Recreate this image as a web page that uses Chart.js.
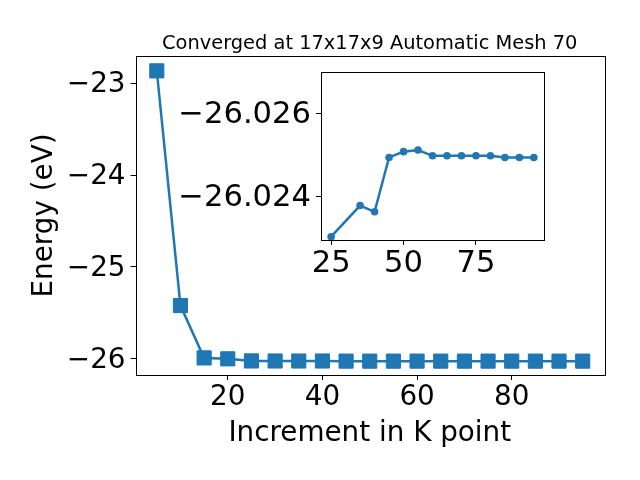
<!DOCTYPE html>
<html>
<head>
<meta charset="utf-8">
<script src="https://cdn.jsdelivr.net/npm/chart.js@4"></script>
<style>
  body { margin: 0; background: #fff; }
  #wrap { position: relative; width: 640px; height: 480px; }
  #wrap canvas { position: absolute; left: 0; top: 0; }
  #insetChart { pointer-events: none; }
</style>
</head>
<body>
<div id="wrap">
  <canvas id="mainChart" width="640" height="480"></canvas>
  <canvas id="insetChart" width="640" height="480"></canvas>
</div>
<script>
// data
const chartTitle = "Converged at 17x17x9 Automatic Mesh 70";
const xTitle = "Increment in K point";
const yTitle = "Energy (eV)";

const kPoints = [5, 10, 15, 20, 25, 30, 35, 40, 45, 50, 55, 60, 65, 70, 75, 80, 85, 90, 95];
const energy = [-22.865, -25.42, -25.99, -26.00, -26.0230, -26.0236, -26.0238, -26.0236, -26.0250,
                -26.0251, -26.0251, -26.0250, -26.0250, -26.0250, -26.0250, -26.0250, -26.0250, -26.0250, -26.0250];

const insetK = [25, 35, 40, 45, 50, 55, 60, 65, 70, 75, 80, 85, 90, 95];
const insetEnergy = [-26.02303, -26.02378, -26.02363, -26.02494, -26.02508, -26.02512, -26.02498,
                     -26.02498, -26.02498, -26.02498, -26.02498, -26.02494, -26.02494, -26.02494];

const mainXTicks = [20, 40, 60, 80];
const mainYTicks = [-26, -25, -24, -23];
const insetXTicks = [25, 50, 75];
const insetYTicks = [-26.026, -26.024];

const blue = '#1f77b4';
const font = 'DejaVu Sans';
const minus = v => (v < 0 ? '\u2212' : '') + Math.abs(v);

// draws the four spines like matplotlib
const frame = {
    id: 'frame',
    afterDraw(chart) {
        let a = chart.chartArea, ctx = chart.ctx;
        ctx.save();
        ctx.strokeStyle = '#000';
        ctx.lineWidth = 1;
        ctx.strokeRect(Math.round(a.left) + 0.5, Math.round(a.top) + 0.5,
            Math.round(a.right - a.left), Math.round(a.bottom - a.top));
        ctx.restore();
    }
};

function pickTicks(list) {
    return function (scale) {
        scale.ticks = list.map(v => ({ value: v }));
    };
}

new Chart(document.getElementById('mainChart'), {
    type: 'line',
    data: {
        datasets: [{
            data: kPoints.map((k, i) => ({ x: k, y: energy[i] })),
            borderColor: blue,
            backgroundColor: blue,
            borderWidth: 2.5,
            pointStyle: 'rect',
            pointRadius: 10,
            pointBorderWidth: 1,
            tension: 0
        }]
    },
    options: {
        responsive: false,
        animation: false,
        devicePixelRatio: 1,
        layout: { padding: { left: 0, right: 36, top: 0, bottom: 0 } },
        plugins: {
            legend: { display: false },
            tooltip: { enabled: false },
            title: {
                display: true,
                text: chartTitle,
                fullSize: false,
                color: '#000',
                font: { family: font, size: 19.4, weight: 'normal' },
                padding: { top: 32, bottom: 0.7 }
            }
        },
        scales: {
            x: {
                type: 'linear',
                min: 0.5,
                max: 99.5,
                afterBuildTicks: pickTicks(mainXTicks),
                afterFit: s => { s.height = 105; },
                ticks: { color: '#000', font: { family: font, size: 27.8 }, padding: 1.5, maxRotation: 0, callback: minus },
                grid: { drawOnChartArea: false, tickLength: 5, color: '#000' },
                border: { display: false },
                title: { display: true, text: xTitle, color: '#000', font: { family: font, size: 27.8 }, padding: { top: 0, bottom: 30 } }
            },
            y: {
                type: 'linear',
                min: -26.176,
                max: -22.703,
                afterBuildTicks: pickTicks(mainYTicks),
                afterFit: s => { s.width = 135.5; },
                ticks: { color: '#000', font: { family: font, size: 27.8 }, padding: 5, labelOffset: 2, callback: minus },
                grid: { drawOnChartArea: false, tickLength: 5, color: '#000' },
                border: { display: false },
                title: { display: true, text: yTitle, color: '#000', font: { family: font, size: 27.8 }, padding: { top: 28.3, bottom: 0 } }
            }
        }
    },
    plugins: [frame]
});

new Chart(document.getElementById('insetChart'), {
    type: 'line',
    data: {
        datasets: [{
            data: insetK.map((k, i) => ({ x: k, y: insetEnergy[i] })),
            borderColor: blue,
            backgroundColor: blue,
            borderWidth: 2.5,
            pointStyle: 'circle',
            pointRadius: 3.8,
            pointBorderWidth: 0,
            tension: 0
        }]
    },
    options: {
        responsive: false,
        animation: false,
        devicePixelRatio: 1,
        layout: { padding: { left: 171, right: 96, top: 72, bottom: 195 } },
        plugins: { legend: { display: false }, tooltip: { enabled: false } },
        scales: {
            x: {
                type: 'linear',
                min: 21.5,
                max: 98.5,
                afterBuildTicks: pickTicks(insetXTicks),
                afterFit: s => { s.height = 45; },
                ticks: { color: '#000', font: { family: font, size: 30.6 }, padding: 1, maxRotation: 0 },
                grid: { drawOnChartArea: false, tickLength: 5, color: '#000' },
                border: { display: false }
            },
            y: {
                type: 'linear',
                reverse: true,
                min: -26.027,
                max: -26.02295,
                afterBuildTicks: pickTicks(insetYTicks),
                afterFit: s => { s.width = 150; },
                ticks: { color: '#000', font: { family: font, size: 30.6 }, padding: 5, labelOffset: 2,
                    callback: v => '\u2212' + Math.abs(v).toFixed(3) },
                grid: { drawOnChartArea: false, tickLength: 5, color: '#000' },
                border: { display: false }
            }
        }
    },
    plugins: [frame]
});
</script>
</body>
</html>
